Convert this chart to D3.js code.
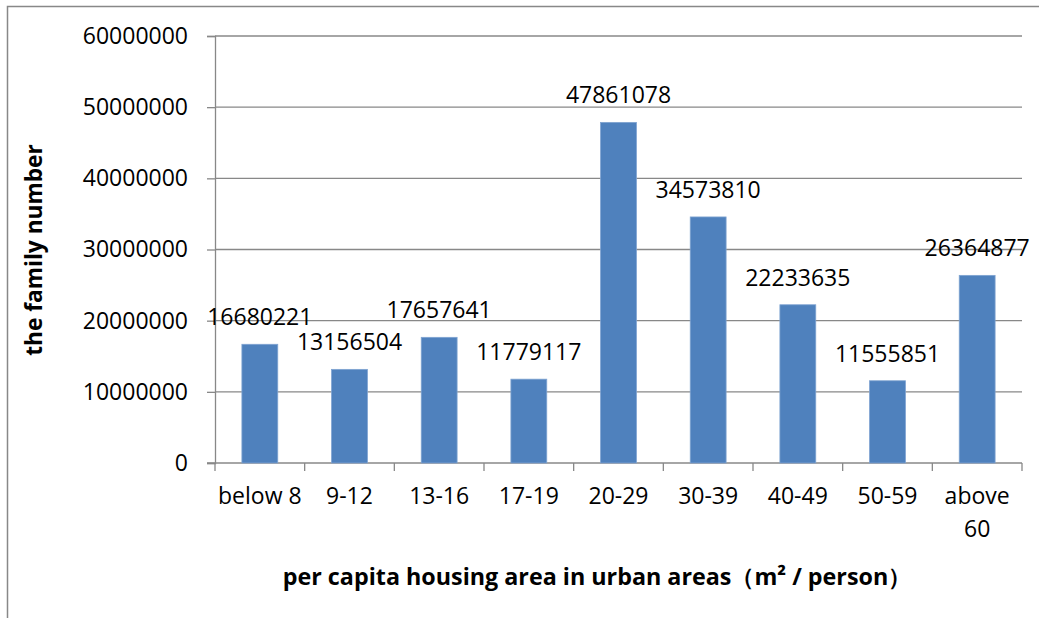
<!DOCTYPE html>
<html><head><meta charset="utf-8">
<script src="https://cdn.jsdelivr.net/npm/d3@7"></script>
<style>body{margin:0;background:#fff}svg{display:block}text{font-family:"Open Sans",sans-serif;fill:#000}</style>
</head><body><svg id="c" width="1039" height="618"></svg>
<script>
const categories = ["below 8","9-12","13-16","17-19","20-29","30-39","40-49","50-59","above 60"];
const familyNumbers = [16680221,13156504,17657641,11779117,47861078,34573810,22233635,11555851,26364877];
const yTicks = [0,10000000,20000000,30000000,40000000,50000000,60000000];
const yTitle = "the family number";
const xTitle = "per capita housing area in urban areas（m² / person）";

const svg = d3.select("#c");
svg.append("rect").attr("x",7.5).attr("y",6.5).attr("width",1100).attr("height",700)
  .attr("fill","none").attr("stroke","#888").attr("stroke-width",1.5);

const x = d3.scaleBand().domain(categories).range([215,1022]).padding(0);
const y = d3.scaleLinear().domain([0,60000000]).range([463,36]);

// gridlines
svg.append("g").selectAll("line").data(yTicks.filter(d=>d>0)).join("line")
  .attr("x1",215).attr("x2",1022).attr("y1",d=>y(d)).attr("y2",d=>y(d))
  .attr("stroke","#888").attr("stroke-width",1.3);

// y axis
const ya = svg.append("g").attr("transform","translate(215,0)")
  .call(d3.axisLeft(y).tickValues(yTicks).tickSize(8).tickPadding(19).tickFormat(d3.format("d")));
ya.select(".domain").attr("stroke","#888").attr("stroke-width",1.3);
ya.selectAll(".tick line").attr("stroke","#888").attr("stroke-width",1.3);
ya.selectAll(".tick text").attr("font-size",23).attr("font-family","Open Sans").attr("fill","#000");

// x axis baseline and ticks at boundaries
const bounds = categories.map(c=>x(c)).concat([x.range()[1]]);
svg.append("line").attr("x1",207).attr("x2",1022).attr("y1",y(0)).attr("y2",y(0))
  .attr("stroke","#888").attr("stroke-width",1.3);
svg.append("g").selectAll("line").data(bounds).join("line")
  .attr("x1",d=>d).attr("x2",d=>d).attr("y1",y(0)).attr("y2",y(0)+8)
  .attr("stroke","#888").attr("stroke-width",1.3);

// bars
const bw = x.bandwidth()*0.4;
svg.append("g").selectAll("rect").data(familyNumbers).join("rect")
  .attr("x",(d,i)=>x(categories[i])+x.bandwidth()/2-bw/2)
  .attr("width",bw)
  .attr("y",d=>y(d)).attr("height",d=>y(0)-y(d))
  .attr("fill","#4F81BD").attr("stroke","#7FA3D1").attr("stroke-width",0.8);

// value labels
svg.append("g").selectAll("text").data(familyNumbers).join("text")
  .attr("x",(d,i)=>x(categories[i])+x.bandwidth()/2)
  .attr("y",d=>y(d)-19)
  .attr("text-anchor","middle").attr("font-size",23)
  .text(d=>d);

// category labels (wrap)
const cl = svg.append("g").selectAll("text").data(categories).join("text")
  .attr("x",d=>x(d)+x.bandwidth()/2).attr("y",504)
  .attr("text-anchor","middle").attr("font-size",23);
cl.each(function(d){
  const t = d3.select(this);
  const w = t.text(d).node().getComputedTextLength();
  if (w > x.bandwidth()-4) {
    t.text(null);
    const parts = d.split(" ");
    parts.forEach((p,i)=>t.append("tspan").attr("x",x(d)+x.bandwidth()/2).attr("dy",i?33:0).text(p));
  }
});

// axis titles
svg.append("text").attr("transform","translate(42,250) rotate(-90)")
  .attr("text-anchor","middle").attr("font-weight","bold").attr("font-size",22.7).text(yTitle);
svg.append("text").attr("x",597).attr("y",585)
  .attr("text-anchor","middle").attr("font-weight","bold").attr("font-size",23.3).text(xTitle);
</script></body></html>
